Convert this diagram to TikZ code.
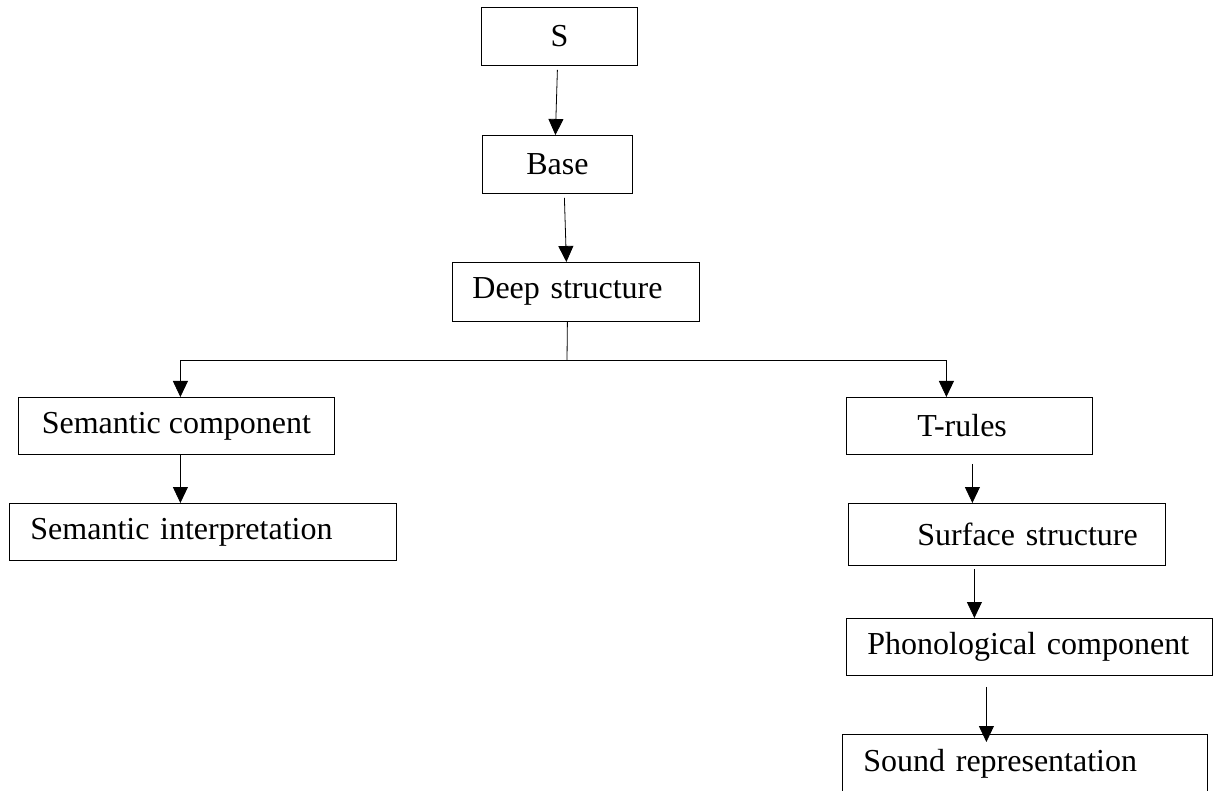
\documentclass[tikz,border=0pt]{standalone}
\usepackage{fontspec}
\setmainfont{Liberation Serif}
\usetikzlibrary{arrows.meta}

\tikzset{
	,line width = 1pt
	,font = \fontsize{16}{19}\selectfont
	,mybox/.style  = {draw=black, anchor=north west, align=center, inner sep=0pt}
	,mylbox/.style 2 args = {draw=black, anchor=north west, align=left, inner sep=0pt,
		text width=#1, execute at begin node={\hspace*{#2}}}
	,myline/.style = {-}
	,myarrow/.style = {-{Triangle[width=7.5pt,length=8pt]}}
}

\begin{document}
\begin{tikzpicture}[x=0.5pt, y=-0.5pt]
				\useasboundingbox (0,0) rectangle (1216,791);
				\node[mybox, minimum width=78pt,  minimum height=29pt]   at (481,7)   (s)    {S};
				\node[mybox, minimum width=75pt,  minimum height=29pt]   at (482,135) (base) {Base};
				\node[mylbox={123.5pt}{10pt},     minimum height=29.5pt] at (452,262) (deep) {Deep structure};
				\node[mybox, minimum width=158pt, minimum height=28.5pt] at (18,397)  (semc) {Semantic component};
				\node[mylbox={193.5pt}{10.5pt},   minimum height=28.5pt] at (9,503)   (semi) {Semantic interpretation};
				\node[mylbox={123pt}{35.5pt},     minimum height=28.5pt] at (846,397) (trules) {T-rules};
				\node[mylbox={158.5pt}{34.5pt},   minimum height=31pt]   at (848,503) (surf)   {Surface structure};
				\node[mylbox={183pt}{10.5pt},     minimum height=28.5pt] at (846,618) (phon)   {Phonological component};
				\node[mylbox={182.5pt}{10.5pt},   minimum height=29.5pt] at (842,734) (sound)  {Sound representation};
				\coordinate (split) at (567,360);
				\draw[myarrow] ([xshift=-1pt,yshift=-2pt]s.south) -- ([xshift=-1pt]base.north);
				\draw[myarrow] ([xshift=3.5pt,yshift=-2pt]base.south) -- ([xshift=-4.75pt]deep.north);
				\draw[myline]  ([xshift=-4.25pt]deep.south) -- (split);
				\draw[myarrow] (split) -| ([xshift=2pt]semc.north);
				\draw[myarrow] (split) -| ([xshift=-11.5pt]trules.north);
				\draw[myarrow] ([xshift=2pt]semc.south) -- ([xshift=2pt]semc.south |- semi.north);
				\draw[myarrow] ([xshift=1.5pt,yshift=-4.5pt]trules.south) -- ([xshift=1.5pt]trules.south |- surf.north);
				\draw[myarrow] ([xshift=-16.25pt,yshift=-1.5pt]surf.south) -- ([xshift=-16.25pt]surf.south |- phon.north);
				\draw[myarrow] ([xshift=-21.5pt,yshift=-5.5pt]phon.south) -- ([xshift=-21.5pt,yshift=-4pt]phon.south |- sound.north);
			\end{tikzpicture}
\end{document}
